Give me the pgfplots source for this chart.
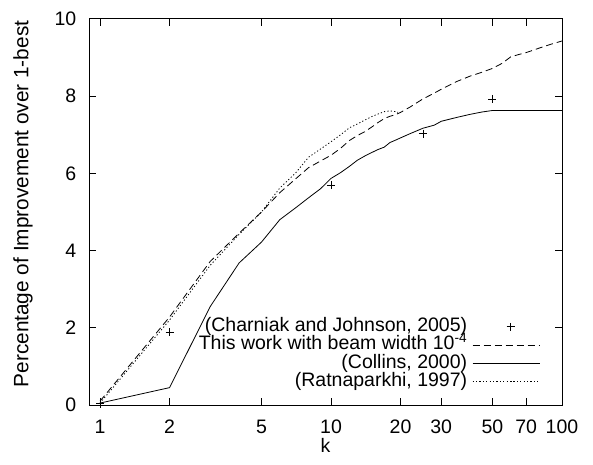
\documentclass[border=0pt]{standalone}
\usepackage{fontspec}
\setmainfont{Liberation Sans}
\usepackage{pgfplots}
\pgfplotsset{compat=1.18}
\newcommand\mysize{\fontsize{19.5}{23}\selectfont}
\newcommand\ylsize{\fontsize{20.8}{24}\selectfont}
\begin{document}
\mysize
\begin{tikzpicture}
\begin{axis}[
  scale only axis, width=473pt, height=386pt,
  xmode=log, xmin=0.896, xmax=100, ymin=0, ymax=10,
  xtick={1,2,5,10,20,30,50,70,100},
  xticklabels={1,2,5,10,20,30,50,70,100},
  minor xtick={}, ytick={0,2,4,6,8,10}, minor ytick={},
  tick align=inside, major tick length=6.7pt,
  axis line style={line width=1pt},
  every tick/.style={black,line width=1pt},
  /pgf/number format/assume math mode=true,
  tick label style={font=\mysize},
  xticklabel style={anchor=north, inner sep=0pt, yshift=-15pt},
  yticklabel style={anchor=east, inner sep=0pt, xshift=-12.5pt},
  xlabel={k}, ylabel={Percentage of Improvement over 1-best},
  xlabel style={font=\mysize, at={(axis description cs:0.5,0)}, anchor=north, inner sep=0pt, yshift=-33pt},
  ylabel style={font=\ylsize, at={(axis description cs:-0.128,0.5207)}, anchor=base, inner sep=0pt},
  legend style={draw=none, fill=none, inner sep=0pt, outer sep=0pt, font=\mysize,
    at={(axis description cs:0.9535,0.0367)}, anchor=south east,
    row sep=0pt, column sep=5pt,
    nodes={inner sep=0pt, text height=14pt, text depth=4.3pt}},
  legend cell align=right, legend plot pos=right,
  legend image code/.code={\draw[mark repeat=2,mark phase=2,#1] plot coordinates {(0pt,0pt) (38pt,0pt) (67pt,0pt)};},
]
\addplot[only marks, mark=+, mark size=4pt, black, line width=0.8pt] coordinates {
(1,0.03) (2,1.88) (10,5.7) (25,7.03) (50,7.93)};
\addlegendentry{(Charniak and Johnson, 2005)}
\addplot[black, line width=0.8pt, dash pattern=on 7pt off 4pt] coordinates {
(1,0.1) (2,2.28) (3,3.72) (4,4.45) (5,5.0) (6,5.5) (7,5.85) (8,6.15) (9,6.32) (10,6.47)
(11,6.65) (12,6.85) (13,6.98) (14,7.08) (15,7.2) (16,7.32) (17,7.42) (18,7.48) (19,7.52)
(20,7.58) (22,7.72) (25,7.93) (28,8.08) (30,8.18) (35,8.38) (40,8.52) (45,8.62) (50,8.72)
(55,8.85) (60,9.02) (65,9.08) (70,9.13) (80,9.25) (90,9.35) (100,9.43)};
\addlegendentry{This work with beam width 10\textsuperscript{-4}}
\addplot[black, line width=0.8pt] coordinates {
(1,0.05) (2,0.45) (3,2.55) (4,3.68) (5,4.22) (6,4.8) (7,5.1) (8,5.37) (9,5.6) (10,5.87)
(11,6.02) (12,6.18) (13,6.34) (14,6.45) (15,6.54) (16,6.62) (17,6.68) (18,6.8) (19,6.86)
(20,6.92) (22,7.03) (25,7.17) (28,7.25) (30,7.35) (35,7.45) (40,7.53) (45,7.59) (50,7.63)
(100,7.63)};
\addlegendentry{(Collins, 2000)}
\addplot[black, line width=0.8pt, dash pattern=on 1.2pt off 2.2pt] coordinates {
(1,0.05) (2,2.2) (3,3.62) (4,4.42) (5,5.0) (6,5.62) (7,6.0) (8,6.42) (9,6.63) (10,6.82)
(11,7.0) (12,7.18) (13,7.28) (14,7.38) (15,7.47) (16,7.54) (17,7.6) (18,7.62) (19,7.6)
(19.5,7.58)};
\addlegendentry{(Ratnaparkhi, 1997)}
\end{axis}
\useasboundingbox ([shift={(-89pt,-59pt)}]current axis.south west) rectangle ([shift={(504pt,405pt)}]current axis.south west);
\end{tikzpicture}
\end{document}
